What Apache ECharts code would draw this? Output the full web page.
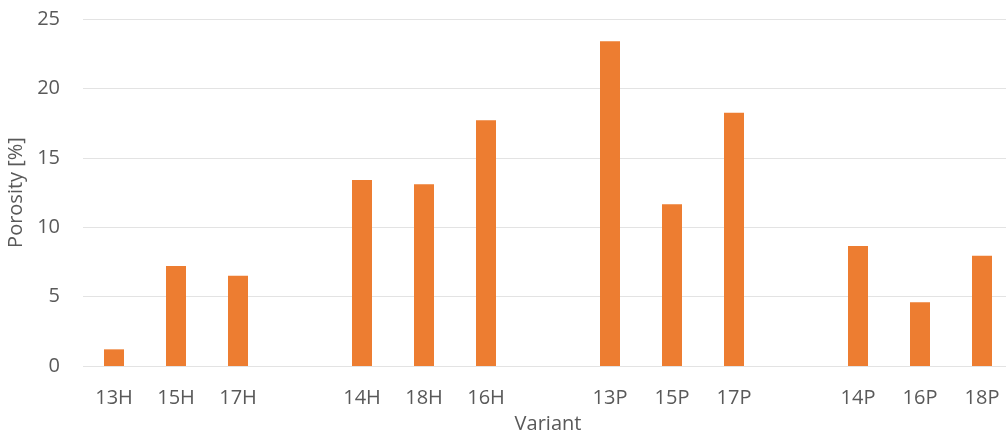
<!DOCTYPE html>
<html>
<head>
<meta charset="utf-8">
<script src="https://cdn.jsdelivr.net/npm/echarts@6/dist/echarts.min.js"></script>
<style>html,body{margin:0;padding:0;background:#fff;}#c{width:1006px;height:436px;}</style>
</head>
<body>
<div id="c"></div>
<script>
const categories = ['13H','15H','17H','','14H','18H','16H','','13P','15P','17P','','14P','16P','18P'];
const porosity = [1.2, 7.2, 6.5, null, 13.4, 13.1, 17.7, null, 23.4, 11.65, 18.25, null, 8.65, 4.6, 7.95];
const yTicks = {min: 0, max: 25, interval: 5};

const chart = echarts.init(document.getElementById('c'));
const font = 'Open Sans';
chart.setOption({
  animation: false,
  grid: {left: 83, top: 19, width: 930, height: 347, outerBoundsMode: 'none', containLabel: false},
  xAxis: {
    type: 'category',
    data: categories,
    name: 'Variant',
    nameLocation: 'middle',
    nameGap: 48,
    nameTextStyle: {color: '#595959', fontSize: 20, fontFamily: font},
    axisLine: {show: false},
    axisTick: {show: false},
    axisLabel: {color: '#595959', fontSize: 20, fontFamily: font, margin: 22, interval: 0}
  },
  yAxis: {
    type: 'value',
    min: yTicks.min, max: yTicks.max, interval: yTicks.interval,
    name: 'Porosity [%]',
    nameLocation: 'middle',
    nameGap: 50,
    nameTextStyle: {color: '#595959', fontSize: 20, fontFamily: font},
    axisLabel: {color: '#595959', fontSize: 20, fontFamily: font, margin: 23},
    splitLine: {lineStyle: {color: '#e3e3e3', width: 1}}
  },
  series: [{
    type: 'bar',
    data: porosity,
    barWidth: 20,
    itemStyle: {color: '#ED7D31'}
  }]
});
</script>
</body>
</html>
